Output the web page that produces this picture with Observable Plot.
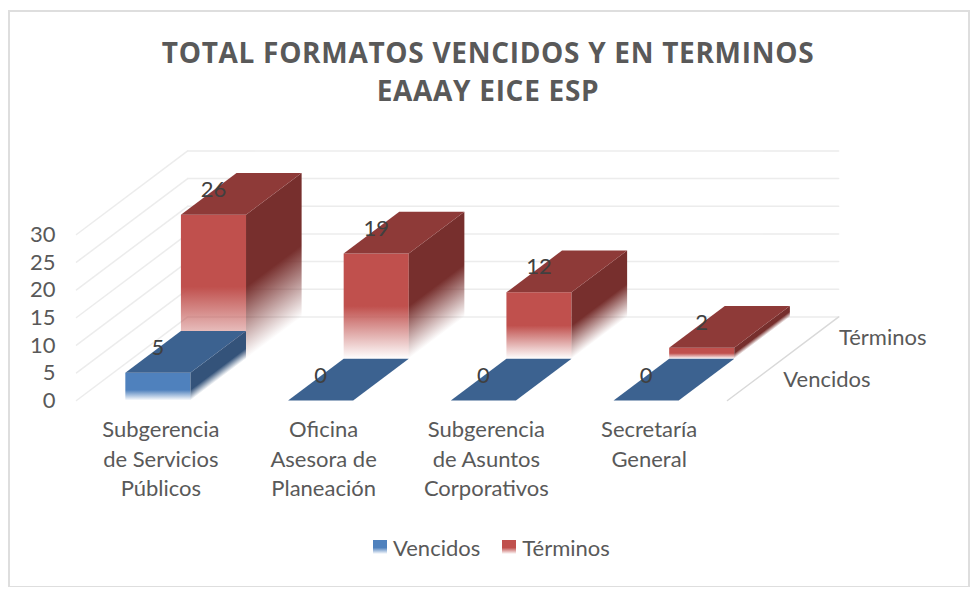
<!DOCTYPE html>
<html><head><meta charset="utf-8">
<script src="https://cdn.jsdelivr.net/npm/d3@7"></script>
<script src="https://cdn.jsdelivr.net/npm/@observablehq/plot@0.6"></script>
<style>
html,body{margin:0;padding:0;background:#fff;}
#wrap{position:relative;width:973px;height:593px;overflow:hidden;font-family:Lato,sans-serif;color:#595959;}
#frame{position:absolute;left:8px;top:10px;width:962px;height:577px;border:2px solid #dedede;border-bottom-width:1px;box-sizing:border-box;}
#title{position:absolute;left:0;width:976px;top:33px;text-align:center;font:bold 28px/38px "Open Sans",sans-serif;letter-spacing:.7px;color:#595959;}
#legend{position:absolute;top:534px;left:373px;height:26px;display:flex;align-items:center;font-size:22px;}
#legend i{display:inline-block;width:14px;height:14px;margin-right:6px;}
#legend span{margin-right:22px;}
svg{position:absolute;left:0;top:0;background:transparent;}
</style></head><body>
<div id="wrap"><div id="frame"></div><div id="title">TOTAL FORMATOS VENCIDOS Y EN TERMINOS<br>EAAAY EICE ESP</div><div id="plot"></div><div id="legend"></div></div>
<script>
const categories = ["Subgerencia\nde Servicios\nPúblicos","Oficina\nAsesora de\nPlaneación","Subgerencia\nde Asuntos\nCorporativos","Secretaría\nGeneral"];
const vencidos = [5,0,0,0];
const terminos = [26,19,12,2];
const seriesNames = ["Vencidos","Términos"];
const yTicks = [0,5,10,15,20,25,30];

const frontColors = ["#4f81bd","#c0504d"];
const topColors = ["#3c6290","#8e3a38"];
const sideColors = ["#34537a","#772f2d"];

const kx = 0.3416, ky = 7.55, barW = 0.4, gap = 0.3;
const px = (c, d) => c + d * kx;
const py = (v, d) => v + d * ky;
const poly = (id, pts) => pts.map(([c, v, d]) => ({id, x: px(c, d), y: py(v, d)}));

const tops = [], fronts = [], sides = [], bars = [];
[vencidos, terminos].forEach((vals, s) => vals.forEach((v, i) => {
  const c0 = i + gap, c1 = c0 + barW, d0 = s, d1 = s + 1;
  bars.push({s, i, v, c0, c1, d0, d1});
  tops.push({s, pts: poly(`t${s}${i}`, [[c0,v,d0],[c1,v,d0],[c1,v,d1],[c0,v,d1]])});
  if (v > 0) {
    fronts.push({s, i, pts: poly(`f${s}${i}`, [[c0,v,d0],[c1,v,d0],[c1,0,d0],[c0,0,d0]])});
    sides.push({s, i, pts: poly(`r${s}${i}`, [[c1,v,d0],[c1,v,d1],[c1,0,d1],[c1,0,d0]])});
  }
}));

const sideGrid = yTicks.flatMap(v => [{v, x: px(0,0), y: py(v,0)},{v, x: px(0,2), y: py(v,2)}]);
const backGrid = yTicks.flatMap(v => [{v, x: px(0,2), y: py(v,2)},{v, x: px(4,2), y: py(v,2)}]);
const floorEdge = [{x: px(4,0), y: py(0,0)},{x: px(4,2), y: py(0,2)}];

function defs(index, {x, y}) {
  const svg = d3.create("svg:defs");
  const add = (id, x1, y1, x2, y2, color, solid) => {
    const g = svg.append("linearGradient").attr("id", id).attr("gradientUnits","userSpaceOnUse")
      .attr("x1",x1).attr("y1",y1).attr("x2",x2).attr("y2",y2);
    g.append("stop").attr("offset",0).attr("stop-color",color);
    g.append("stop").attr("offset",solid).attr("stop-color",color);
    g.append("stop").attr("offset",1).attr("stop-color",color).attr("stop-opacity",0);
  };
  bars.filter(b => b.v > 0).forEach(b => {
    const solid = b.s ? 0.5 : 0.62;
    const xf = x(px(b.c0,b.d0)), yt = y(py(b.v,b.d0)), yb = y(py(0,b.d0));
    add(`gf${b.s}${b.i}`, xf, yt, xf, yb, frontColors[b.s], solid);
    const xr = x(px(b.c1,b.d0));
    const ex = x(px(b.c1,b.d1)) - xr, ey = y(py(0,b.d1)) - yb, len = Math.hypot(ex,ey);
    const nx = -ey/len, ny = ex/len, L = (yb-yt)*ny;
    add(`gr${b.s}${b.i}`, xr, yt, xr+nx*L, yt+ny*L, sideColors[b.s], solid);
  });
  return svg.node();
}

const faceMarks = s => [
  ...fronts.filter(f => f.s === s).map(f => Plot.line(f.pts, {x:"x", y:"y", fill:`url(#gf${s}${f.i})`, stroke:null})),
  ...sides.filter(f => f.s === s).map(f => Plot.line(f.pts, {x:"x", y:"y", fill:`url(#gr${s}${f.i})`, stroke:null})),
  ...tops.filter(f => f.s === s).map(f => Plot.line(f.pts, {x:"x", y:"y", fill:topColors[s], stroke:null}))
];

const chart = Plot.plot({
  width: 973, height: 593,
  marginLeft: 76, marginRight: 246, marginTop: 234, marginBottom: 193,
  x: {domain: [0,4]},
  y: {domain: [0,30]},
  style: {fontFamily: "Lato, sans-serif", background: "transparent", overflow: "visible"},
  marks: [
    defs,
    Plot.line(sideGrid, {x:"x", y:"y", z:"v", stroke:"#ececec", strokeWidth:1.5}),
    Plot.line(backGrid, {x:"x", y:"y", z:"v", stroke:"#ececec", strokeWidth:1.5}),
    Plot.line(floorEdge, {x:"x", y:"y", stroke:"#d9d9d9", strokeWidth:1.5}),
    Plot.axisY({ticks: yTicks, tickSize: 0, tickPadding: 21, fontSize: 22, label: null, color: "#595959", dy: 0.5}),
    Plot.axisX({ticks: categories.map((_, i) => i + 0.5), tickFormat: v => categories[v - 0.5], tickSize: 0, tickPadding: 16, fontSize: 22, lineHeight: 1.34, label: null, dx: 3, color: "#595959"}),
    Plot.text(seriesNames, {x: (_, s) => px(4, s + 0.5), y: (_, s) => py(0, s + 0.5), text: d => d, textAnchor: "start", dx: 28, fontSize: 22, fill: "#595959"}),
    ...faceMarks(1),
    ...faceMarks(0),
    Plot.text(bars, {x: b => px(b.c0 + barW/2, b.d0), y: b => py(b.v, b.d0), text: "v", dy: -25, fontSize: 22, fill: "#404040"})
  ]
});
document.getElementById("plot").append(chart);

const legend = d3.select("#legend");
seriesNames.forEach((n, s) => {
  legend.append("i").style("background", `linear-gradient(${frontColors[s]} 55%, #fff 100%)`);
  legend.append("span").text(n);
});
</script></body></html>
